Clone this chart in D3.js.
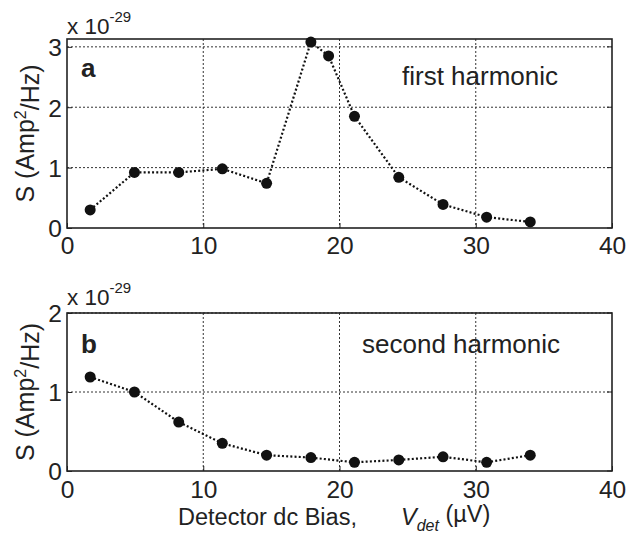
<!DOCTYPE html>
<html>
<head>
<style type="text/css">
	body{ margin:0; background:#fff; }
	text{ font-family: "Liberation Sans", Arial, sans-serif; fill:#222; }
	.grid line{ stroke:#333; stroke-width:1; stroke-dasharray:2,2; }
</style>
</head>
<body>
<div id="chart"></div>
<script src="https://d3js.org/d3.v7.min.js"></script>
<script type="text/javascript">
	// bias values (uV)
	var biasA = [1.7, 4.95, 8.2, 11.4, 14.65, 17.9, 19.2, 21.1, 24.35, 27.6, 30.8, 34.0];
	var firstHarm = [0.30, 0.92, 0.92, 0.98, 0.74, 3.08, 2.85, 1.85, 0.84, 0.39, 0.18, 0.10];
	var biasB = [1.7, 4.95, 8.2, 11.4, 14.65, 17.9, 21.1, 24.35, 27.6, 30.8, 34.0];
	var secondHarm = [1.19, 1.00, 0.62, 0.35, 0.20, 0.17, 0.11, 0.14, 0.18, 0.11, 0.20];
	var xTicks = [0, 10, 20, 30, 40];
	var yTicksA = [0, 1, 2, 3];
	var yTicksB = [0, 1, 2];

	var W = 628, H = 535;
	var left = 67, right = 612;

	var svg = d3.select("#chart").append("svg")
		.attr("width", W)
		.attr("height", H);

	var x = d3.scaleLinear().domain([0, 40]).range([left, right]);

	function panel(top, bottom, ymax, yTicks, xs, ys, letter, label, labelX, labelY, expOff, xPad){
		var y = d3.scaleLinear().domain([0, ymax]).range([bottom, top]);
		var g = svg.append("g");

		// grid
		var grid = g.append("g").attr("class", "grid");
		grid.selectAll(".vx").data(xTicks.slice(1, -1)).enter().append("line")
			.attr("x1", function(d){ return x(d); })
			.attr("x2", function(d){ return x(d); })
			.attr("y1", top).attr("y2", bottom);
		grid.selectAll(".hy").data(yTicks.slice(1)).enter().append("line")
			.attr("y1", function(d){ return y(d); })
			.attr("y2", function(d){ return y(d); })
			.attr("x1", left).attr("x2", right);

		// axes (ticks inward like matlab)
		var xAxis = d3.axisBottom(x).tickValues(xTicks).tickSize(-5).tickPadding(xPad).tickFormat(d3.format("d"));
		var yAxis = d3.axisLeft(y).tickValues(yTicks).tickSize(-5).tickPadding(5).tickFormat(d3.format("d"));

		var gx = g.append("g").attr("transform", "translate(0," + bottom + ")").call(xAxis);
		var gy = g.append("g").attr("transform", "translate(" + left + ",0)").call(yAxis);
		[gx, gy].forEach(function(a){
			a.select(".domain").remove();
			a.selectAll("line").attr("stroke", "#222");
			a.selectAll("text").style("font-size", "24.5px").attr("fill", "#222");
		});
		gy.selectAll("text").attr("dy", "0.36em");
		// right side ticks
		g.selectAll(".rt").data(yTicks).enter().append("line")
			.attr("x1", right).attr("x2", right - 5)
			.attr("y1", function(d){ return y(d); })
			.attr("y2", function(d){ return y(d); })
			.attr("stroke", "#222");

		// frame
		g.append("rect")
			.attr("x", left).attr("y", top)
			.attr("width", right - left).attr("height", bottom - top)
			.attr("fill", "none").attr("stroke", "#222").attr("stroke-width", 1.6);

		// data line
		var pts = xs.map(function(d, i){ return [d, ys[i]]; });
		var line = d3.line()
			.x(function(d){ return x(d[0]); })
			.y(function(d){ return y(d[1]); });
		g.append("path")
			.datum(pts)
			.attr("d", line)
			.attr("fill", "none")
			.attr("stroke", "#111")
			.attr("stroke-width", 2.2)
			.attr("stroke-dasharray", "2,2.2");
		g.selectAll(".dot").data(pts).enter().append("circle")
			.attr("cx", function(d){ return x(d[0]); })
			.attr("cy", function(d){ return y(d[1]); })
			.attr("r", 5.5)
			.attr("fill", "#111");

		// exponent
		var ex = g.append("text").attr("x", left).attr("y", top - expOff).style("font-size", "22.5px");
		ex.append("tspan").text("x 10");
		ex.append("tspan").attr("dy", "-0.78em").style("font-size", "15px").text("-29");

		// panel letter and caption
		g.append("text").attr("x", 81).attr("y", letter == "a" ? top + 38 : top + 40)
			.style("font-size", "26px").style("font-weight", "bold").text(letter);
		g.append("text").attr("x", labelX).attr("y", labelY)
			.attr("text-anchor", "middle").style("font-size", "26px").text(label);

		// y label
		var yl = g.append("text")
			.attr("transform", "translate(34," + ((top + bottom) / 2) + ") rotate(-90)")
			.attr("text-anchor", "middle")
			.style("font-size", "25px");
		yl.append("tspan").text("S (Amp");
		yl.append("tspan").attr("dy", "-0.5em").style("font-size", "16px").text("2");
		yl.append("tspan").attr("dy", "0.5em").text("/Hz)");
	}

	panel(39, 228, 3.13, yTicksA, biasA, firstHarm, "a", "first harmonic", 480, 85, 5, 9);
	panel(313, 471, 2, yTicksB, biasB, secondHarm, "b", "second harmonic", 461, 353, 8, 10);

	// x axis label
	var xl = svg.append("text")
		.attr("x", 178).attr("y", 525)
		.style("font-size", "23.5px");
	xl.append("tspan").text("Detector dc Bias,");
	xl.append("tspan").attr("x", 401).style("font-style", "italic").text("V");
	xl.append("tspan").attr("dy", "0.35em").style("font-style", "italic").style("font-size", "16px").text("det");
	xl.append("tspan").attr("dy", "-0.35em").text(" (\u00b5V)");
</script>
</body>
</html>
